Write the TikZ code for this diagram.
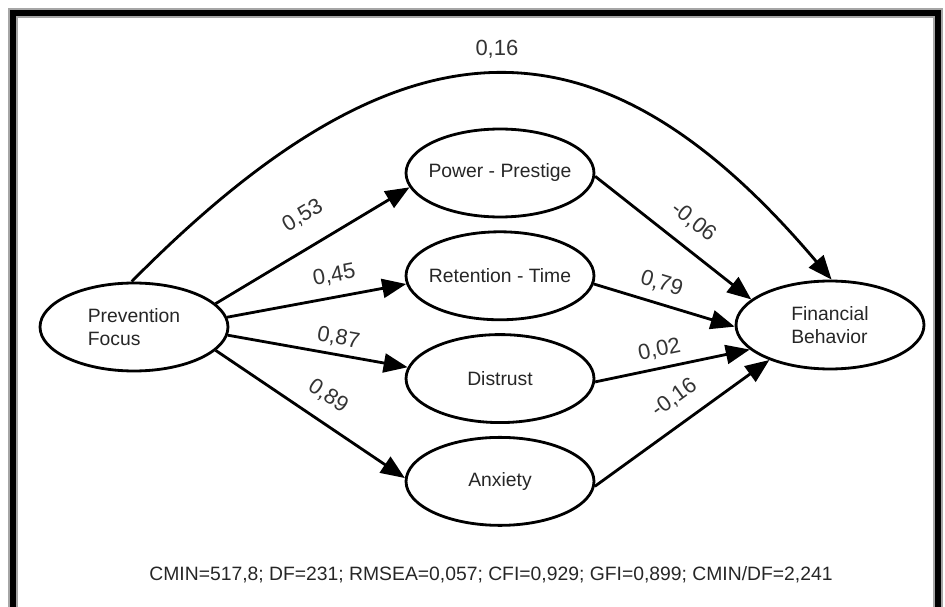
\documentclass[tikz,border=0pt]{standalone}
\usepackage{fontspec}
\setmainfont{Liberation Sans}
\usetikzlibrary{positioning,shapes.geometric,arrows.meta}

\begin{document}
\begin{tikzpicture}[x=0.02cm, y=-0.02cm, node distance=0.24cm,
    latent/.style={ellipse, draw=black, line width=1.6pt, fill=white, inner xsep=-0.2cm, minimum width=3.76cm, minimum height=1.76cm, align=left, text=black!85, font=\fontsize{11}{13}\selectfont},
    effect/.style={line width=1.6pt, -{Triangle[length=0.48cm, width=0.38cm]}},
    coef/.style={sloped, above=5pt, text=black!80, font=\fontsize{12.5}{14}\selectfont}]
        \useasboundingbox (0,0) rectangle (945,607);
        \clip (0,0) rectangle (945,607);
        % Frame
        \draw[black!35, line width=0.2cm] (13,620) -- (13,13) -- (938,13) -- (938,620);
        \draw[black, line width=0.12cm] (13,620) -- (13,13) -- (938,13) -- (938,620);

        % Nodes
        \node[latent] (PF) at (134,327) {Prevention\\Focus};
        \node[latent] (PP) at (500,173) {Power - Prestige};
        \node[latent] (RT) [below=of PP] {Retention - Time};
        \node[latent] (D) [below=of RT] {Distrust};
        \node[latent] (A) [below=of D] {Anxiety};
        \node[latent] (FB) at (830,325) {Financial\\Behavior};

        % Edges
        \draw[effect] (PF.93) .. controls (404,6) and (600,6) .. (FB.88) node[midway, above=5pt, text=black!80, font=\fontsize{12.5}{14}\selectfont] {0,16};
        \draw[effect] (PF.16) -- (PP.189) node[coef, pos=0.53, above=8pt] {0,53};
        \draw[effect] (PF.6) -- (RT.185) node[coef, pos=0.62, above=3pt] {0,45};
        \draw[effect] (PF.-5) -- (D.173) node[coef, pos=0.6, above=0pt] {0,87};
        \draw[effect] (PF.-16) -- (A.178) node[coef, pos=0.52] {0,89};
        \draw[effect] (PP.-2) -- (FB.162) node[coef, pos=0.53] {-0,06};
        \draw[effect] (RT.-5) -- (FB.181) node[coef, pos=0.44, above=2pt] {0,79};
        \draw[effect] (D.-2) -- (FB.197) node[coef, pos=0.44, above=1pt] {0,02};
        \draw[effect] (A.-3) -- (FB.210) node[coef, pos=0.54] {-0,16};

        % Fit indices
        \node[text=black!85, font=\fontsize{11}{13}\selectfont] (fitidx) at (491,575) {CMIN=517,8; DF=231; RMSEA=0,057; CFI=0,929; GFI=0,899; CMIN/DF=2,241};
\end{tikzpicture}
\end{document}
